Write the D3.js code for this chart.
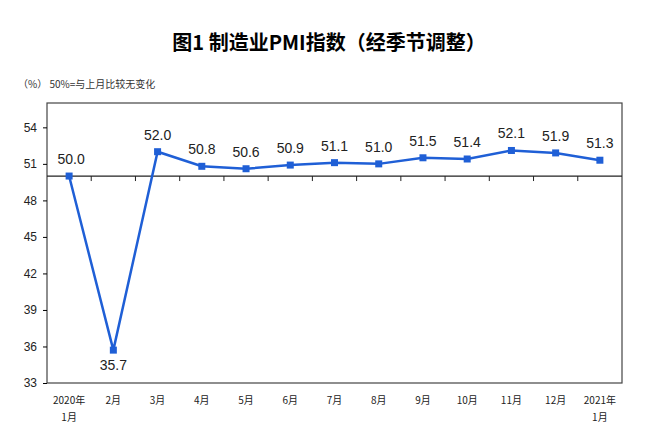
<!DOCTYPE html><html><head><meta charset="utf-8"><script src="https://cdn.jsdelivr.net/npm/d3@7"></script>
<style>body{margin:0;background:#fff}</style></head><body><svg id="c" width="658" height="447"></svg><script>
const months=["2020年|1月","2月","3月","4月","5月","6月","7月","8月","9月","10月","11月","12月","2021年|1月"];
const values=[50.0,35.7,52.0,50.8,50.6,50.9,51.1,51.0,51.5,51.4,52.1,51.9,51.3];
const yTicks=[33,36,39,42,45,48,51,54];
const svg=d3.select("#c"),L=47,R=622,T=103,B=383;
const x=d3.scaleBand().domain(d3.range(months.length)).range([L,R]);
const y=d3.scaleLinear().domain([33,56]).range([B,T]);
const f="'Liberation Sans',Arial,sans-serif";
svg.append("text").attr("x",329).attr("y",50).attr("text-anchor","middle").attr("font-family","'Noto Sans CJK SC'").attr("font-weight","bold").attr("font-size",20).text("图1  制造业PMI指数（经季节调整）");
svg.append("text").attr("x",18).attr("y",88).attr("font-family","'Noto Sans CJK SC'").attr("font-size",10).attr("fill","#333").text("（%）     50%=与上月比较无变化");
svg.append("rect").attr("x",L).attr("y",T).attr("width",R-L).attr("height",B-T).attr("fill","none").attr("stroke","#444").attr("stroke-width",1.2);
const ya=svg.append("g").attr("transform",`translate(${L},0)`).call(d3.axisLeft(y).tickValues(yTicks).tickSize(4).tickPadding(6));
ya.select(".domain").remove();
ya.selectAll("text").attr("font-family",f).attr("font-size",12).attr("fill","#222");
const y50=y(50);
svg.append("line").attr("x1",L).attr("x2",R).attr("y1",y50).attr("y2",y50).attr("stroke","#222").attr("stroke-width",1.2);
svg.selectAll(".tk").data(d3.range(1,months.length)).join("line").attr("x1",i=>x(i)).attr("x2",i=>x(i)).attr("y1",y50).attr("y2",y50+5).attr("stroke","#222");
const cx=i=>x(i)+x.bandwidth()/2;
svg.append("path").datum(values).attr("fill","none").attr("stroke","#1f5fd6").attr("stroke-width",2.5)
 .attr("d",d3.line().x((d,i)=>cx(i)).y(d=>y(d)));
svg.selectAll(".m").data(values).join("rect").attr("x",(d,i)=>cx(i)-3.5).attr("y",d=>y(d)-3.5).attr("width",7).attr("height",7).attr("fill","#1f5fd6");
svg.selectAll(".v").data(values).join("text").attr("x",(d,i)=>cx(i)+(i==0?2:0)).attr("y",d=>d<40?y(d)+20:y(d)-12)
 .attr("text-anchor","middle").attr("font-family",f).attr("font-size",14).attr("fill","#222").text(d=>d.toFixed(1));
months.forEach((m,i)=>{m.split("|").forEach((s,j)=>svg.append("text").attr("x",cx(i)).attr("y",404+j*17).attr("text-anchor","middle").attr("font-family","'Noto Sans CJK SC'").attr("font-size",10).attr("fill","#222").text(s));});
</script></body></html>
